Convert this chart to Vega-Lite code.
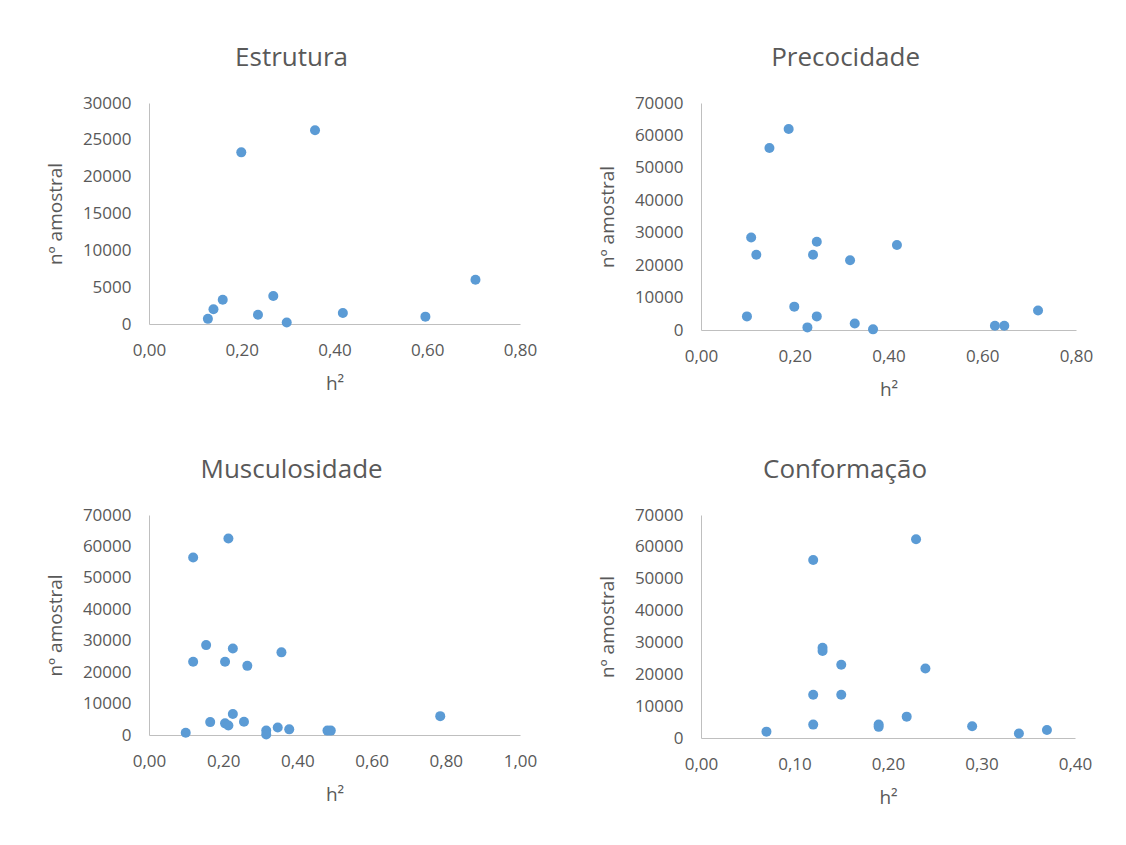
{
  "$schema": "https://vega.github.io/schema/vega-lite/v6.json",
  "background": "white",
  "padding": {"left": 46, "top": 45, "right": 5, "bottom": 5},
  "datasets": {
    "estrutura": [
      {"h2": 0.127, "n": 700}, {"h2": 0.139, "n": 2000}, {"h2": 0.159, "n": 3300},
      {"h2": 0.199, "n": 23300}, {"h2": 0.235, "n": 1250}, {"h2": 0.268, "n": 3800},
      {"h2": 0.297, "n": 200}, {"h2": 0.358, "n": 26300}, {"h2": 0.418, "n": 1500},
      {"h2": 0.596, "n": 1000}, {"h2": 0.704, "n": 6000}
    ],
    "precocidade": [
      {"h2": 0.098, "n": 4200}, {"h2": 0.107, "n": 28500}, {"h2": 0.118, "n": 23200},
      {"h2": 0.146, "n": 56100}, {"h2": 0.187, "n": 62000}, {"h2": 0.199, "n": 7200},
      {"h2": 0.227, "n": 800}, {"h2": 0.239, "n": 23200}, {"h2": 0.247, "n": 27200},
      {"h2": 0.247, "n": 4200}, {"h2": 0.318, "n": 21500}, {"h2": 0.328, "n": 2000},
      {"h2": 0.367, "n": 200}, {"h2": 0.418, "n": 26200}, {"h2": 0.627, "n": 1300},
      {"h2": 0.647, "n": 1300}, {"h2": 0.719, "n": 6000}
    ],
    "musculosidade": [
      {"h2": 0.099, "n": 700}, {"h2": 0.119, "n": 56500}, {"h2": 0.119, "n": 23300},
      {"h2": 0.154, "n": 28600}, {"h2": 0.165, "n": 4100}, {"h2": 0.205, "n": 23300},
      {"h2": 0.205, "n": 3700}, {"h2": 0.214, "n": 62500}, {"h2": 0.214, "n": 3000},
      {"h2": 0.226, "n": 27500}, {"h2": 0.226, "n": 6700}, {"h2": 0.256, "n": 4200},
      {"h2": 0.265, "n": 22000}, {"h2": 0.316, "n": 1400}, {"h2": 0.316, "n": 150},
      {"h2": 0.347, "n": 2400}, {"h2": 0.357, "n": 26300}, {"h2": 0.378, "n": 1800},
      {"h2": 0.481, "n": 1400}, {"h2": 0.49, "n": 1400}, {"h2": 0.785, "n": 6000}
    ],
    "conformacao": [
      {"h2": 0.07, "n": 2000}, {"h2": 0.12, "n": 55900}, {"h2": 0.12, "n": 13600},
      {"h2": 0.12, "n": 4200}, {"h2": 0.13, "n": 28300}, {"h2": 0.13, "n": 27300},
      {"h2": 0.15, "n": 23000}, {"h2": 0.15, "n": 13600}, {"h2": 0.19, "n": 4200},
      {"h2": 0.19, "n": 3500}, {"h2": 0.22, "n": 6700}, {"h2": 0.23, "n": 62400},
      {"h2": 0.24, "n": 21800}, {"h2": 0.29, "n": 3700}, {"h2": 0.34, "n": 1400},
      {"h2": 0.37, "n": 2500}
    ]
  },
  "config": {
    "font": "Open Sans",
    "view": {"stroke": null},
    "axis": {
      "labelFont": "Open Sans", "labelFontSize": 17, "labelColor": "#595959",
      "titleFont": "Open Sans", "titleFontSize": 19, "titleFontWeight": "normal", "titleColor": "#595959",
      "domainColor": "#BFBFBF", "ticks": false, "grid": false
    },
    "axisX": {"labelPadding": 18, "titlePadding": 16, "labelFlush": false},
    "axisY": {"labelPadding": 18, "titlePadding": 17},
    "title": {"font": "Open Sans", "fontSize": 26, "fontWeight": "normal", "color": "#595959", "anchor": "middle", "frame": "bounds", "offset": 23},
    "circle": {"size": 100, "color": "#5B9BD5", "opacity": 1}
  },
  "columns": 2,
  "spacing": {"row": 185, "column": 181},
  "bounds": "flush",
  "concat": [
    {
      "title": "Estrutura",
      "data": {"name": "estrutura"},
      "width": 371, "height": 221,
      "mark": "circle",
      "encoding": {
        "x": {"field": "h2", "type": "quantitative", "title": "h²",
              "scale": {"domain": [0, 0.8], "nice": false},
              "axis": {"values": [0, 0.2, 0.4, 0.6, 0.8], "labelExpr": "replace(format(datum.value, '.2f'), '.', ',')"}},
        "y": {"field": "n", "type": "quantitative", "title": "nº amostral",
              "scale": {"domain": [0, 30000], "nice": false},
              "axis": {"values": [0, 5000, 10000, 15000, 20000, 25000, 30000], "format": "d"}}
      }
    },
    {
      "title": "Precocidade",
      "data": {"name": "precocidade"},
      "width": 375, "height": 227,
      "mark": "circle",
      "encoding": {
        "x": {"field": "h2", "type": "quantitative", "title": "h²",
              "scale": {"domain": [0, 0.8], "nice": false},
              "axis": {"values": [0, 0.2, 0.4, 0.6, 0.8], "labelExpr": "replace(format(datum.value, '.2f'), '.', ',')"}},
        "y": {"field": "n", "type": "quantitative", "title": "nº amostral",
              "scale": {"domain": [0, 70000], "nice": false},
              "axis": {"values": [0, 10000, 20000, 30000, 40000, 50000, 60000, 70000], "format": "d"}}
      }
    },
    {
      "title": "Musculosidade",
      "data": {"name": "musculosidade"},
      "width": 371, "height": 220,
      "mark": "circle",
      "encoding": {
        "x": {"field": "h2", "type": "quantitative", "title": "h²",
              "scale": {"domain": [0, 1], "nice": false},
              "axis": {"values": [0, 0.2, 0.4, 0.6, 0.8, 1], "labelExpr": "replace(format(datum.value, '.2f'), '.', ',')"}},
        "y": {"field": "n", "type": "quantitative", "title": "nº amostral",
              "scale": {"domain": [0, 70000], "nice": false},
              "axis": {"values": [0, 10000, 20000, 30000, 40000, 50000, 60000, 70000], "format": "d"}}
      }
    },
    {
      "title": "Conformação",
      "data": {"name": "conformacao"},
      "width": 374, "height": 223,
      "mark": "circle",
      "encoding": {
        "x": {"field": "h2", "type": "quantitative", "title": "h²",
              "scale": {"domain": [0, 0.4], "nice": false},
              "axis": {"values": [0, 0.1, 0.2, 0.3, 0.4], "labelExpr": "replace(format(datum.value, '.2f'), '.', ',')"}},
        "y": {"field": "n", "type": "quantitative", "title": "nº amostral",
              "scale": {"domain": [0, 70000], "nice": false},
              "axis": {"values": [0, 10000, 20000, 30000, 40000, 50000, 60000, 70000], "format": "d"}}
      }
    }
  ]
}
